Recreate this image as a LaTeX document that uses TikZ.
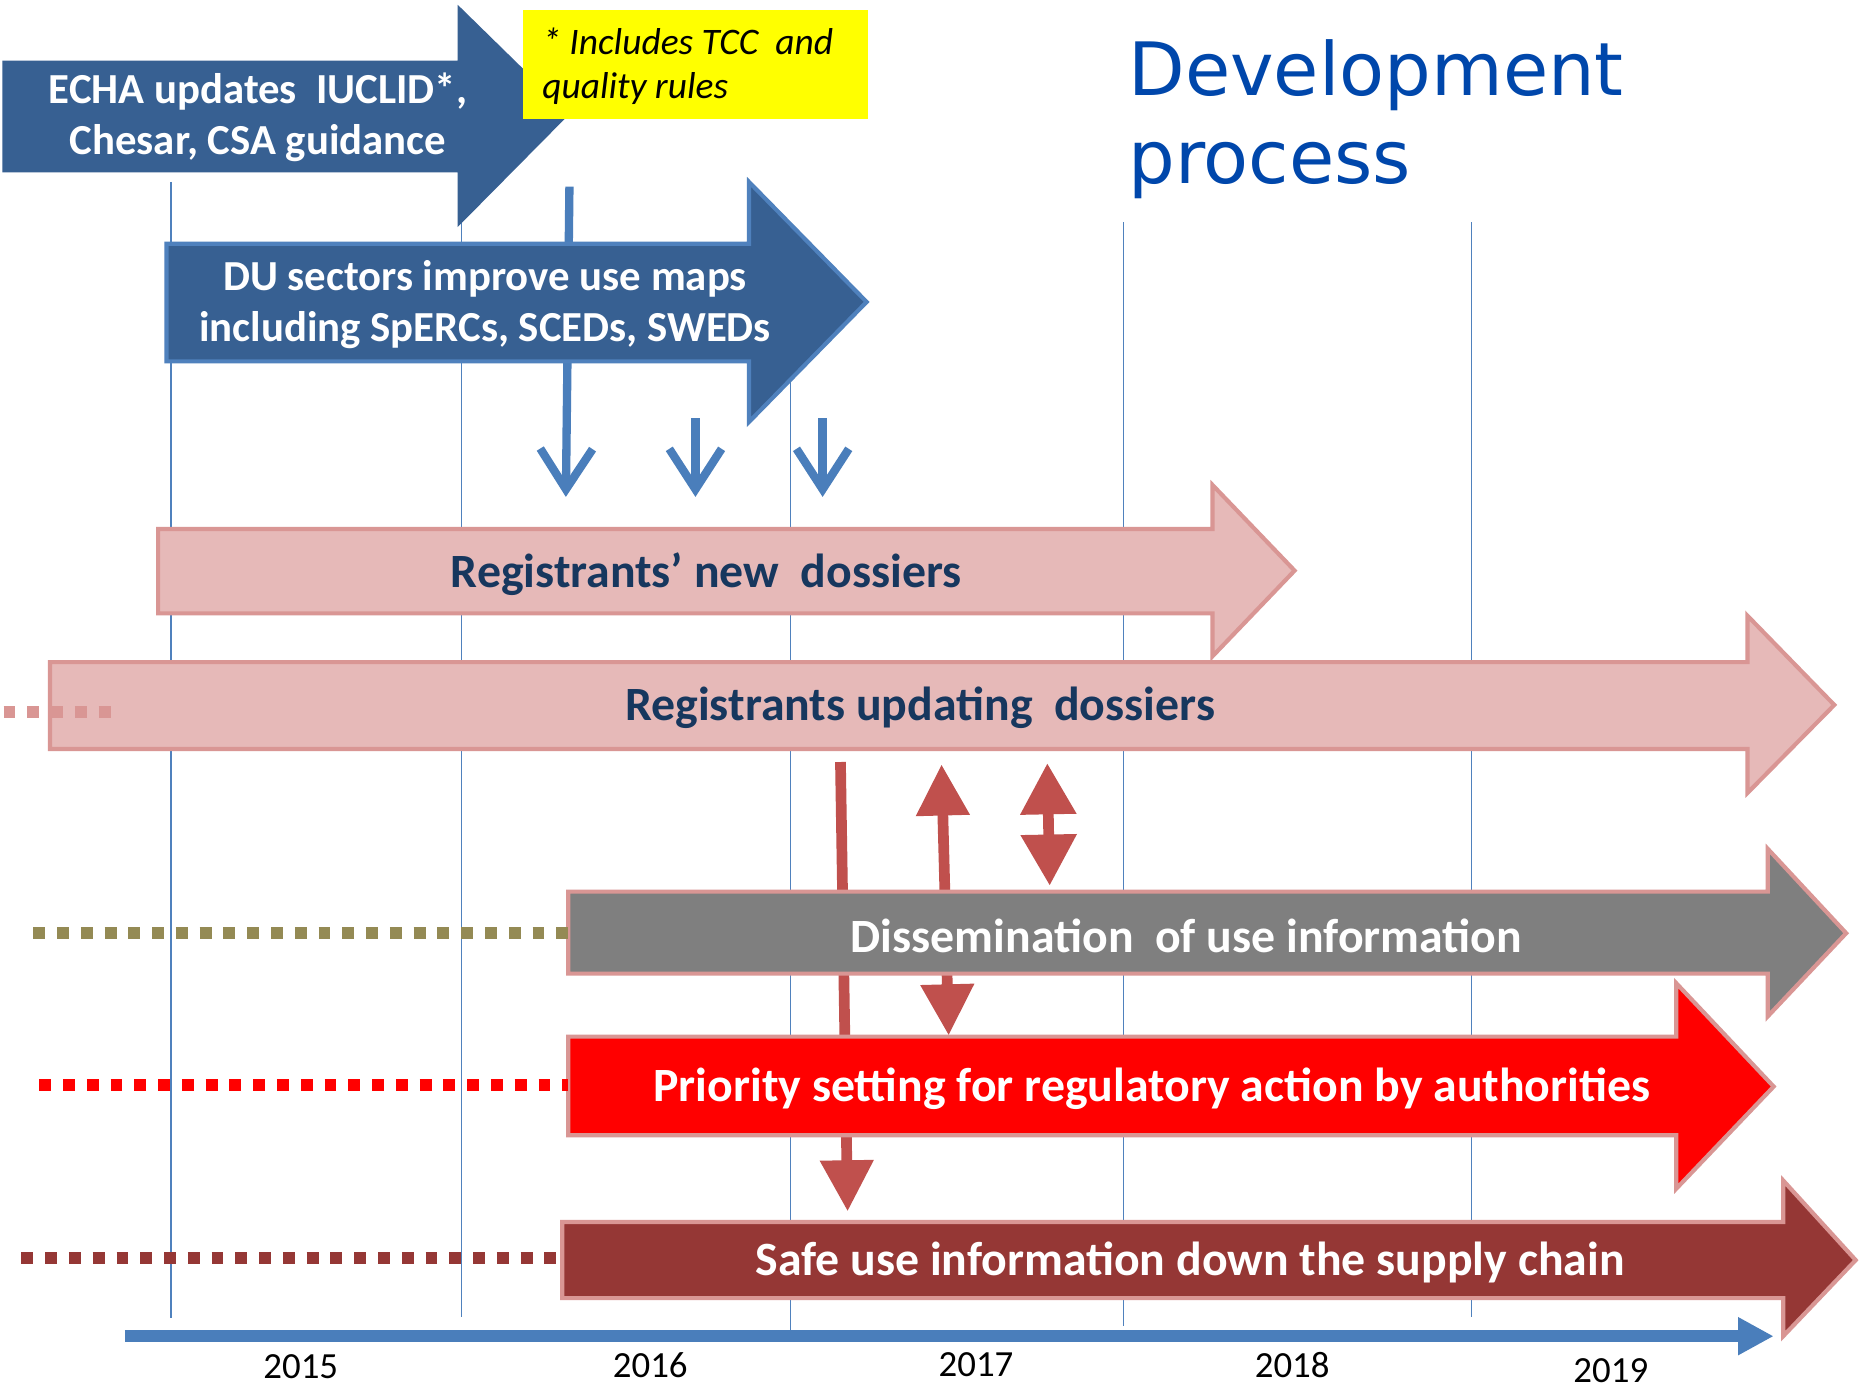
\documentclass[tikz,border=0pt]{standalone}
\usepackage{fontspec}
\setmainfont{Carlito}
\newfontfamily\titlefont{DejaVu Sans}
\usetikzlibrary{arrows.meta}
\definecolor{dblue}{HTML}{376092}
\definecolor{mblue}{HTML}{4F81BD}
\definecolor{ablue}{HTML}{4A7EBB}
\definecolor{pinkfill}{HTML}{E6B9B8}
\definecolor{pinkline}{HTML}{D99694}
\definecolor{navy}{HTML}{17375E}
\definecolor{rconn}{HTML}{C0504D}
\definecolor{safered}{HTML}{953735}
\definecolor{olivec}{HTML}{948A54}
\definecolor{ggray}{HTML}{7F7F7F}
\definecolor{titleblue}{HTML}{0047AB}
\definecolor{yel}{HTML}{FFFF00}
\begin{document}
\begin{tikzpicture}[x=1pt,y=-1pt,
  gridline/.style={draw=mblue,line width=1.2pt},
  bluearr/.style={draw=ablue,line width=7pt,-{Straight Barb[length=34pt,width=44pt]}},
  redarr/.style={draw=rconn,line width=9pt},
  pinkarrow/.style={fill=pinkfill,draw=pinkline,line width=3.5pt,line join=miter},
  dots/.style={line width=10pt,dash pattern=on 10pt off 10pt},
  biglbl/.style={font=\bfseries\fontsize{40.2}{48}\selectfont,inner sep=0pt},
  bluelbl/.style={font=\bfseries\fontsize{36}{43}\selectfont,inner sep=0pt,text=white,align=center},
  yearlbl/.style={font=\fontsize{31}{37}\selectfont,inner sep=0pt}
]
\useasboundingbox[fill=white] (0,0) rectangle (1568,1175);

% grid lines
\draw[gridline] (144,153) -- (144,1109);
\draw[gridline] (388,153) -- (388,1108);
\draw[gridline] (665,187) -- (665,1119);
\draw[gridline] (945,187) -- (945,1115);
\draw[gridline] (1238,187) -- (1238,1108);

% blue arrow behind DU arrow
\coordinate (b1s) at (479,157);
\coordinate (b1e) at (476,418);
\draw[bluearr] (b1s) -- (b1e);

% ECHA arrow
\fill[dblue] (2,51) -- (385,51) -- (385,4) -- (479,96) -- (385,191) -- (385,145) -- (2,145) -- cycle;
\node[bluelbl] (echa) at (217,99) {ECHA updates\ \ IUCLID*,\\[0pt]Chesar, CSA guidance};

% yellow note
\fill[yel] (440,8) rectangle (730,100);
\node[font=\itshape\fontsize{31.5}{37}\selectfont,inner sep=0pt,align=left,anchor=west] (note) at (456,56) {* Includes TCC\ \ and\\quality rules};

% title
\node[font=\titlefont\fontsize{61.9}{74}\selectfont,text=titleblue,inner sep=0pt,anchor=base west] (title1) at (949,80) {Development};
\node[font=\titlefont\fontsize{61.9}{74}\selectfont,text=titleblue,inner sep=0pt,anchor=base west] (title2) at (949,154) {process};

% DU arrow
\filldraw[fill=dblue,draw=mblue,line width=3.5pt] (140,205) -- (630,205) -- (630,153) -- (729,254) -- (630,355) -- (630,304) -- (140,304) -- cycle;
\node[bluelbl] (du) at (408,256) {DU sectors improve use maps\\including SpERCs, SCEDs, SWEDs};

% small blue arrows
\coordinate (b2s) at (585,352);
\coordinate (b2e) at (585,418);
\coordinate (b3s) at (692,352);
\coordinate (b3e) at (692,418);
\draw[bluearr] (b2s) -- (b2e);
\draw[bluearr] (b3s) -- (b3e);

% Registrants new dossiers
\draw[pinkarrow] (133,445) -- (1020,445) -- (1020,408) -- (1089,480) -- (1020,552) -- (1020,516) -- (133,516) -- cycle;
\node[biglbl,text=navy] (newdos) at (594,483) {Registrants’ new\ \ dossiers};

% Registrants updating dossiers
\draw[pinkarrow] (42,557) -- (1470,557) -- (1470,518) -- (1543,593) -- (1470,667) -- (1470,630) -- (42,630) -- cycle;
\node[biglbl,text=navy] (upd) at (774,595) {Registrants updating\ \ dossiers};
\draw[dots,draw=pinkline] (3,599) -- (95,599);

% red connectors (behind the lower arrows)
\coordinate (r1s) at (707,641);
\coordinate (r1e) at (713,1019);
\draw[redarr,-{Triangle[length=43pt,width=43pt]}] (r1s) -- (r1e);
\coordinate (r2s) at (792,643);
\coordinate (r2e) at (798,871);
\draw[redarr,{Triangle[length=43pt,width=43pt]}-{Triangle[length=43pt,width=43pt]}] (r2s) -- (r2e);
\coordinate (r3s) at (881,642);
\coordinate (r3e) at (883,745);
\draw[redarr,{Triangle[length=43pt,width=45pt]}-{Triangle[length=43pt,width=45pt]}] (r3s) -- (r3e);

% Dissemination
\draw[pinkarrow,fill=ggray] (478,750) -- (1487,750) -- (1487,714) -- (1553,785) -- (1487,855) -- (1487,819) -- (478,819) -- cycle;
\node[biglbl,text=white] (diss) at (998,787) {Dissemination\ \ of use information};
\draw[dots,draw=olivec] (28,785) -- (478,785);

% Priority
\draw[pinkarrow,fill=red] (478,872) -- (1410,872) -- (1410,827) -- (1492,914) -- (1410,1000) -- (1410,955) -- (478,955) -- cycle;
\node[biglbl,text=white] (prio) at (969,916) {Priority setting for regulatory action by authorities};
\draw[dots,draw=red] (33,913) -- (478,913);

% Safe use
\draw[pinkarrow,fill=safered] (473,1028) -- (1500,1028) -- (1500,993) -- (1561,1060) -- (1500,1124) -- (1500,1092) -- (473,1092) -- cycle;
\node[biglbl,text=white] (safe) at (1001,1062) {Safe use information down the supply chain};
\draw[dots,draw=safered] (18,1058) -- (470,1058);

% time axis
\coordinate (axs) at (105,1124);
\coordinate (axe) at (1492,1124);
\draw[draw=ablue,line width=10pt,-{Triangle[length=30pt,width=30pt]}] (axs) -- (axe);
\node[yearlbl] (y15) at (253,1150) {2015};
\node[yearlbl] (y16) at (547,1148) {2016};
\node[yearlbl] (y17) at (821,1148) {2017};
\node[yearlbl] (y18) at (1087,1148) {2018};
\node[yearlbl] (y19) at (1355,1153) {2019};
\end{tikzpicture}
\end{document}
